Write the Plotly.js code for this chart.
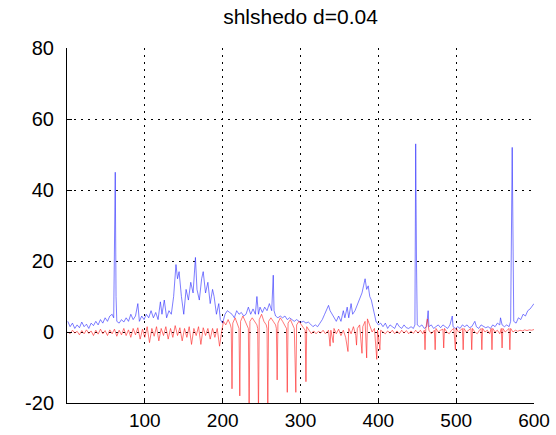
<!DOCTYPE html>
<html>
<head>
<meta charset="utf-8">
<script src="https://cdn.plot.ly/plotly-3.0.1.min.js"></script>
<style>html,body{margin:0;padding:0;background:#fff;}#chart{width:556px;height:435px;}</style>
</head>
<body>
<div id="chart"></div>
<script>
var titleText = "shlshedo d=0.04";
var xTickVals = [100, 200, 300, 400, 500, 600];
var yTickVals = [-20, 0, 20, 40, 60, 80];

var blueX = [1,4,7,10,13,16,19,22,25,28,31,34,37,40,43,46,49,52,55,58,60,61,62,63,64,67,70,73,76,79,82,85,88,91,93,96,99,102,105,108,111,114,117,120,122,125,128,131,134,137,140,142,144,147,150,153,156,159,162,165,167,170,173,175,178,181,184,187,189,192,195,197,200,203,206,209,212,215,218,221,224,227,230,233,236,239,242,244,246,248,251,254,257,260,263,265,266,268,271,274,277,280,283,286,289,292,295,298,301,304,307,310,313,316,319,322,325,328,331,334,336,338,341,343,346,349,352,355,357,360,362,365,367,370,373,376,379,381,383,385,387,389,391,393,395,397,400,403,406,409,412,415,418,421,424,427,430,433,436,439,442,445,447,448,449,450,453,456,459,462,464,465,468,471,474,477,480,483,486,489,492,495,496,499,502,505,508,511,514,517,520,524,526,529,532,535,538,541,544,547,550,553,556,557,559,562,565,568,570,572,573,574,577,580,583,586,589,592,595,598,600];
var blueY = [3,1.5,2.5,1,2,1.2,2.8,1.5,2.2,1,2.5,1.8,3,2,3.5,2.5,4,3,4.5,5,4,20,45,10,3,2.5,3.5,2.8,4,3,5,3.5,4.5,8,3,4.5,3.5,5,4,6,4,5.5,3.5,8.5,5,9,4,6,5,10,19,15,17,10,5,12,9,14,11,21,12,9,15,17,11,14,8,12,10,5,8,3.5,2.5,5,6,5.5,5,4,6,5,5.5,4.5,5,7,5,6.5,5,10,5,7,5.5,7,6,8,6,16,6,4.5,4,4.5,4,4.5,3.5,4,3.5,3,3.5,3,2.8,3,2.5,2.8,2.2,1.5,2,1.5,2.5,3.5,5,6.5,7.5,6,5,4,3,4.5,3,6,4,7,4,8,5,6,7.5,9,11,13,15,12,13,10,9,7,5,3,2,2.5,1.5,2.5,1,2,1.5,1,2.5,1.5,1,2,1.2,1,1.5,1,2,53,20,2,1.5,2,1,1.5,6,1.5,2,1,1.5,2,1.2,2,1.5,1,2,4.5,1.5,1,1.5,1,2,1.5,2,1.2,1.5,3,1.5,1,2,1.5,1.2,1.5,1,2,1.5,2.5,2,4,2,1.5,2,1.5,3,52,15,3,2.5,4,3.5,5,4.5,6,6.5,7.5,8];

var redX = [1,4,7,10,13,16,19,22,25,28,31,34,37,40,43,46,49,52,55,58,61,64,67,70,73,76,79,82,85,88,91,94,97,100,103,106,109,112,115,118,121,124,127,130,133,136,139,142,145,148,151,154,157,160,163,166,169,172,175,178,181,184,187,190,193,196,199,201,204,207,210,211,212,213,216,219,221,222,223,226,229,232,233,234,235,238,241,244,245,246,247,250,253,256,257,258,259,262,265,268,269,270,271,274,277,280,282,283,284,287,290,292,294,295,298,301,304,306,307,308,311,314,317,320,323,326,329,332,336,338,339,342,343,346,349,352,355,358,361,362,365,368,371,372,373,376,379,380,383,385,386,389,392,395,398,399,402,403,406,409,412,415,418,421,424,427,430,433,436,439,442,445,448,451,454,457,459,460,461,463,465,468,472,473,474,477,480,483,484,485,488,491,494,497,499,500,503,506,508,509,510,513,516,519,520,521,524,527,530,532,533,534,537,540,543,545,546,547,550,553,556,558,559,560,563,566,568,569,570,573,576,579,582,585,588,591,594,597,600];
var redY = [0,-0.5,0.5,-0.3,0.2,-0.8,0.4,-0.5,0.6,-0.4,0.3,-1,0.5,-0.6,0.8,-0.5,0.4,-1,0.6,-0.5,0.8,-1.2,0.5,-0.8,1,-1,0.6,-1.5,1,-0.8,1.2,-2,0.8,-1.5,1.5,-3,1,-1.2,1.5,-2.5,1,-1,1.5,-2,1,-1.5,1.8,-1,1.2,-2.5,1,-1.5,1.5,-3.5,1,-1,1.5,-3.5,1.2,-1,1,-2,1,-1.5,1,-4,0.5,3,2,3.5,2,1,-16,2.5,4,2.5,1,-18,3,4.5,3,2,1,-23,3,4,3,2,1,-24,3.5,5,3,2,1,-23,3,4,3,2,1,-13.5,2.5,4,3,2,1,-17,2.5,3.5,2,1,-17,2,3,2,1,0.5,-14,1.5,0.5,-0.5,0.3,-0.5,0.2,-0.3,0.5,-0.5,0.5,-4,0.5,-3,1,-0.5,0.8,-1,0.5,-1.5,-5.5,1,-0.5,1.5,-1,-3.7,1,2,-6,1.5,3,-7.3,3.7,1.5,0,1,-7.7,0.5,-5,0.5,0,-0.5,0.3,-0.3,0.5,-0.5,0.3,-0.5,0.5,-0.3,0.4,-0.5,0.3,-0.4,0.5,-0.3,0.5,-0.5,0.5,-5,1,3.7,0.5,-0.5,0.5,-5,1,0,0.5,0.8,-4.5,1,0,-0.5,0.5,1,-5,1,0,0.5,1,-5,1,0,0.5,1,-5,1,0,-0.5,0.5,1,-5,1,0,0.5,-0.5,1,-5,1,0,0.5,-0.5,1,-4.5,1,0,0.5,1,-5,1,0,0.5,0.2,0.5,0.3,0.6,0.4,0.6,0.5,0.7];

var traces = [
  {x: blueX, y: blueY, type: 'scatter', mode: 'lines', line: {color: 'rgba(40,40,255,0.6)', width: 1}, hoverinfo: 'skip'},
  {x: redX, y: redY, type: 'scatter', mode: 'lines', line: {color: 'rgba(255,30,30,0.6)', width: 1}, hoverinfo: 'skip'}
];

var fontFam = 'Liberation Sans, Arial, Helvetica, sans-serif';
var layout = {
  width: 556, height: 435,
  margin: {l: 67, r: 22, t: 48, b: 32, pad: 0},
  paper_bgcolor: '#fff', plot_bgcolor: '#fff',
  showlegend: false,
  title: {text: titleText, x: 0.5, xref: 'paper', xanchor: 'center', y: 1 - 17/435, yref: 'container', yanchor: 'middle', font: {family: fontFam, size: 21, color: '#000'}},
  xaxis: {
    range: [0, 600], tickvals: xTickVals, ticktext: xTickVals.map(String),
    showgrid: true, gridcolor: '#000', gridwidth: 1, griddash: '2px,5px',
    showline: true, linecolor: '#000', linewidth: 1, mirror: false, zeroline: false,
    ticks: 'inside', ticklen: 5, tickcolor: '#000',
    tickfont: {family: fontFam, size: 19, color: '#000'}, ticklabelstandoff: 0
  },
  yaxis: {
    range: [-20, 80], tickvals: yTickVals, ticktext: yTickVals.map(String),
    showgrid: true, gridcolor: '#000', gridwidth: 1, griddash: '2px,5px',
    showline: true, linecolor: '#000', linewidth: 1, mirror: false, zeroline: false,
    ticks: 'inside', ticklen: 5, tickcolor: '#000',
    tickfont: {family: fontFam, size: 20, color: '#000'}, ticklabelstandoff: 8
  }
};

Plotly.newPlot('chart', traces, layout, {staticPlot: true, displayModeBar: false});
</script>
</body>
</html>
